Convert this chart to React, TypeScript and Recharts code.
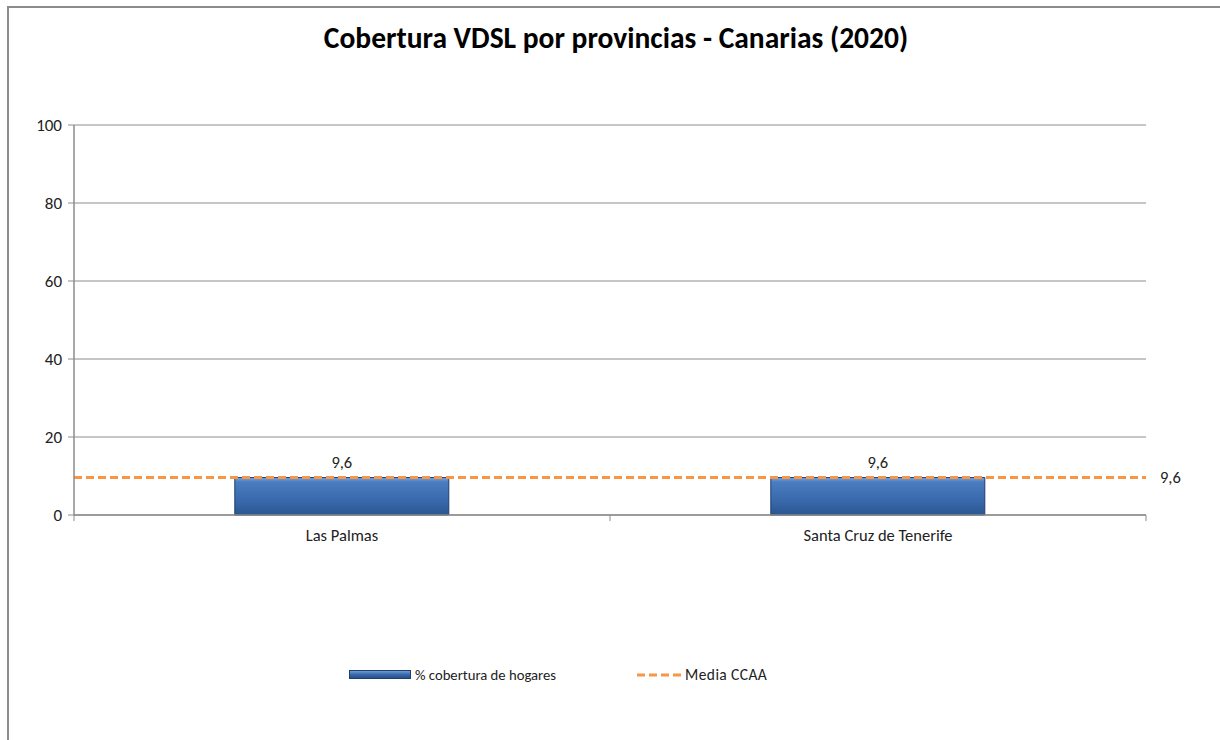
import React from "react";
import {
  ComposedChart,
  Bar,
  XAxis,
  YAxis,
  CartesianGrid,
  ReferenceLine,
  LabelList,
  Legend,
} from "recharts";

const provincias = ["Las Palmas", "Santa Cruz de Tenerife"];
const cobertura = [9.6, 9.6];
const mediaCCAA = 9.6;
const yTicks = [0, 20, 40, 60, 80, 100];
const title = "Cobertura VDSL por provincias - Canarias (2020)";
const barName = "% cobertura de hogares";
const lineName = "Media CCAA";

const data = provincias.map((p, i) => ({ name: p, value: cobertura[i] }));

const FONT = "Calibri, Carlito, Lato, 'Open Sans', sans-serif";
const fmt = (v: any) => String(v).replace(".", ",");

const CategoryTick = (props: any) => {
  const { x, y, payload, index, visibleTicksCount } = props;
  const half = payload && payload.offset ? payload.offset : 0;
  const isLast = index === (visibleTicksCount || provincias.length) - 1;
  return (
    <g>
      <line x1={x - half} y1={y - 16} x2={x - half} y2={y - 10} stroke="#8c8c8c" />
      {isLast && <line x1={x + half} y1={y - 16} x2={x + half} y2={y - 10} stroke="#8c8c8c" />}
      <text
        x={x}
        y={y + 6}
        textAnchor="middle"
        dominantBaseline="middle"
        fontFamily={FONT}
        fontSize={16.5}
        fill="#222"
      >
        {payload.value}
      </text>
    </g>
  );
};

const LegendContent = () => (
  <div
    style={{
      display: "flex",
      alignItems: "center",
      fontFamily: FONT,
      fontSize: 14.7,
      color: "#222",
      paddingLeft: 349,
    }}
  >
    <div
      style={{
        width: 60,
        height: 7,
        background: "linear-gradient(#6e9ad6, #3a6aad 50%, #254f8a)",
        border: "1px solid #1f3f6f",
        marginRight: 4,
      }}
    />
    <span>{barName}</span>
    <svg width={45} height={10} style={{ marginLeft: 81, marginRight: 3 }}>
      <line x1={0} y1={5} x2={45} y2={5} stroke="#f79646" strokeWidth={3} strokeDasharray="8 4" />
    </svg>
    <span style={{ fontSize: 15.5, letterSpacing: 0.4 }}>{lineName}</span>
  </div>
);

export default function App() {
  return (
    <div style={{ position: "absolute", left: 0, top: 0, width: 1220, height: 740, background: "#fff" }}>
      <div
        style={{
          position: "absolute",
          left: 7,
          top: 6,
          width: 1220,
          height: 740,
          borderLeft: "2px solid #8c8c8c",
          borderTop: "2px solid #8c8c8c",
        }}
      />
      <div
        style={{
          position: "absolute",
          top: 20,
          left: 0,
          width: 1232,
          textAlign: "center",
          fontFamily: FONT,
          fontWeight: "bold",
          fontSize: 29.5,
          color: "#000",
        }}
      >
        {title}
      </div>
      <div style={{ position: "absolute", left: 0, top: 0 }}>
        <ComposedChart
          width={1220}
          height={740}
          data={data}
          margin={{ top: 125, right: 74, left: 14, bottom: 176 }}
          barCategoryGap="30%"
        >
          <defs>
            <linearGradient id="barGrad" x1="0" y1="0" x2="0" y2="1">
              <stop offset="0%" stopColor="#7aa5df" />
              <stop offset="12%" stopColor="#4a7cc0" />
              <stop offset="60%" stopColor="#3a6aad" />
              <stop offset="100%" stopColor="#2a5590" />
            </linearGradient>
          </defs>
          <CartesianGrid vertical={false} stroke="#8c8c8c" strokeWidth={1} />
          <XAxis
            dataKey="name"
            axisLine={{ stroke: "#8c8c8c", strokeWidth: 1.5 }}
            tickLine={false}
            tick={<CategoryTick />}
            tickMargin={10}
            height={30}
            interval={0}
          />
          <YAxis
            domain={[0, 100]}
            ticks={yTicks}
            width={60}
            axisLine={{ stroke: "#8c8c8c", strokeWidth: 1.5 }}
            tickLine={{ stroke: "#8c8c8c" }}
            tickSize={6}
            tick={{ fontFamily: FONT, fontSize: 17, fill: "#222" }}
            tickMargin={6}
          />
          <Bar
            dataKey="value"
            name={barName}
            fill="url(#barGrad)"
            stroke="#1f3f6f"
            strokeWidth={1}
            isAnimationActive={false}
          >
            <LabelList
              dataKey="value"
              position="top"
              offset={10}
              formatter={fmt}
              style={{ fontFamily: FONT, fontSize: 16.5, fill: "#222" }}
            />
          </Bar>
          <ReferenceLine
            y={mediaCCAA}
            stroke="#f79646"
            strokeWidth={3}
            strokeDasharray="8 4"
            label={{
              value: fmt(mediaCCAA),
              position: "right",
              offset: 14,
              style: { fontFamily: FONT, fontSize: 16.5, fill: "#222" },
            }}
          />
          <Legend
            content={<LegendContent />}
            wrapperStyle={{ position: "absolute", top: 665, left: 0, width: 1220 }}
          />
        </ComposedChart>
      </div>
    </div>
  );
}
